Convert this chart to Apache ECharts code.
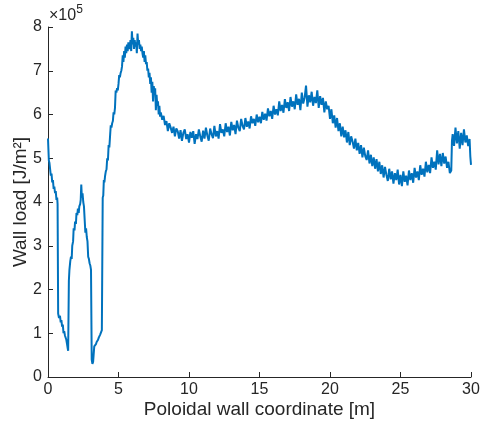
<!DOCTYPE html>
<html>
<head>
<meta charset="utf-8">
<script src="https://cdn.jsdelivr.net/npm/echarts@6/dist/echarts.min.js"></script>
<style>html,body{margin:0;padding:0;background:#fff}#c{width:482px;height:421px}</style>
</head>
<body>
<div id="c"></div>
<script>
// Wall load, in units of 1e5 J/m^2, vs poloidal coordinate [m]
const xTicks = [0, 5, 10, 15, 20, 25, 30];
const yTicks = [0, 1, 2, 3, 4, 5, 6, 7, 8];
const wallLoad = [
[0,5.45],[0.03,5.2],[0.06,4.95],[0.1,4.9],[0.15,4.75],[0.2,4.6],[0.25,4.65],[0.3,4.45],[0.35,4.5],[0.4,4.3],[0.45,4.35],[0.5,4.2],[0.55,4.25],[0.6,4.05],[0.65,4.1],[0.68,3.95],
[0.72,1.45],[0.78,1.35],[0.85,1.4],[0.9,1.25],[0.95,1.3],[1.0,1.15],[1.05,1.2],[1.1,1.0],[1.15,1.05],[1.2,0.95],[1.25,0.98],[1.3,0.85],[1.35,0.75],[1.4,0.65],[1.43,0.6],
[1.48,2.2],[1.52,2.45],[1.58,2.65],[1.63,2.75],[1.68,2.7],[1.72,3.0],[1.78,3.1],[1.82,3.4],[1.88,3.35],[1.92,3.55],[1.98,3.5],[2.02,3.75],[2.08,3.7],[2.12,3.85],[2.18,3.75],[2.22,3.9],[2.28,3.95],[2.32,4.05],[2.36,4.4],[2.4,4.1],[2.45,4.2],[2.5,4.0],[2.55,3.9],[2.6,3.6],[2.65,3.3],[2.7,3.4],[2.75,3.2],[2.8,3.1],[2.85,2.75],[2.9,2.7],[2.95,2.6],[3.0,2.55],[3.05,2.45],
[3.1,0.4],[3.15,0.3],[3.2,0.35],[3.25,0.32],[3.28,0.7],[3.35,0.68],[3.4,0.75],[3.45,0.8],[3.5,0.78],[3.55,0.85],[3.6,0.9],[3.65,0.92],[3.7,0.97],[3.75,1.0],[3.82,1.07],
[3.88,4.1],[3.92,4.15],[3.96,4.5],[4.0,4.45],[4.05,4.6],[4.1,4.7],[4.15,4.75],[4.2,5.0],[4.25,4.95],[4.3,5.3],[4.35,5.25],[4.4,5.5],[4.45,5.75],[4.5,5.7],[4.55,5.8],[4.6,5.85],[4.65,6.05],[4.7,6.0],[4.75,6.15],[4.8,6.55],[4.85,6.5],[4.9,6.6],[4.95,6.55],[5.0,6.7],[5.05,6.9],[5.1,6.85],[5.15,6.95],[5.2,7.0],[5.25,7.1],[5.3,7.35],[5.35,7.2],[5.4,7.45],[5.45,7.3],[5.5,7.55],[5.55,7.4],[5.6,7.6],[5.65,7.45],[5.7,7.65],[5.75,7.5],[5.8,7.55],[5.85,7.7],[5.9,7.45],[5.95,7.9],[6.0,7.6],[6.05,7.75],[6.1,7.5],[6.15,7.7],[6.2,7.55],[6.25,7.65],[6.3,7.4],[6.35,7.85],[6.4,7.6],[6.45,7.7],[6.5,7.5],[6.55,7.6],[6.6,7.45],[6.65,7.55],[6.7,7.4],[6.75,7.3],[6.8,7.45],[6.85,7.2],[6.9,7.35],[6.95,7.15],[7.0,7.2],[7.05,7.0],[7.1,7.05],[7.15,6.85],[7.2,6.95],[7.25,6.7],[7.3,6.85],[7.35,6.5],[7.4,6.75],[7.45,6.3],[7.5,6.65],[7.55,6.5],[7.6,6.6],[7.65,6.1],[7.7,6.45],[7.75,6.2],[7.8,6.3],[7.85,6.0],[7.9,6.2],[7.95,5.95],
[8.0,6.05],[8.1,5.88],[8.2,5.97],[8.3,5.76],[8.4,5.85],[8.5,5.62],[8.6,5.80],[8.7,5.70],[8.8,5.58],[8.9,5.72],[9.0,5.50],[9.1,5.68],[9.2,5.62],[9.3,5.45],[9.4,5.64],[9.5,5.40],[9.6,5.58],[9.7,5.66],[9.8,5.44],[9.9,5.55],
[10.0,5.36],[10.1,5.60],[10.2,5.47],[10.3,5.62],[10.4,5.33],[10.5,5.55],[10.6,5.44],[10.7,5.66],[10.8,5.50],[10.9,5.38],[11.0,5.63],[11.1,5.45],[11.2,5.70],[11.3,5.52],[11.4,5.40],[11.5,5.68],[11.6,5.55],[11.7,5.46],[11.8,5.74],[11.9,5.50],
[12.0,5.62],[12.1,5.45],[12.2,5.78],[12.3,5.58],[12.4,5.66],[12.5,5.50],[12.6,5.80],[12.7,5.60],[12.8,5.72],[12.9,5.52],[13.0,5.83],[13.1,5.64],[13.2,5.76],[13.3,5.55],[13.4,5.86],[13.5,5.70],[13.6,5.62],[13.7,5.90],[13.8,5.74],[13.9,5.66],
[14.0,5.92],[14.1,5.72],[14.2,5.84],[14.3,5.68],[14.4,5.96],[14.5,5.80],[14.6,5.90],[14.7,5.74],[14.8,6.00],[14.9,5.82],
[15.0,5.95],[15.1,5.80],[15.2,6.06],[15.3,5.88],[15.4,6.02],[15.5,5.86],[15.6,6.14],[15.7,5.96],[15.8,6.08],[15.9,5.90],[16.0,6.20],[16.1,6.00],[16.2,6.12],[16.3,5.98],[16.4,6.30],[16.5,6.08],[16.6,6.22],[16.7,6.04],[16.8,6.35],[16.9,6.15],
[17.0,6.28],[17.1,6.08],[17.2,6.40],[17.3,6.18],[17.4,6.30],[17.5,6.12],[17.6,6.46],[17.7,6.22],[17.8,6.36],[17.9,6.10],[18.0,6.50],[18.1,6.25],[18.2,6.38],[18.3,6.66],[18.4,6.18],[18.5,6.44],[18.6,6.28],[18.7,6.52],[18.8,6.20],[18.9,6.40],
[19.0,6.26],[19.1,6.55],[19.2,6.15],[19.3,6.42],[19.4,6.22],[19.5,6.38],[19.6,6.05],[19.7,6.30],[19.8,6.12],[19.9,6.20],[20.0,5.90],[20.1,6.12],[20.2,5.80],[20.3,5.98],[20.4,5.70],[20.5,5.92],[20.6,5.62],[20.7,5.80],[20.8,5.50],[20.9,5.72],
[21.0,5.48],[21.1,5.64],[21.2,5.36],[21.3,5.60],[21.4,5.30],[21.5,5.50],[21.6,5.38],[21.7,5.22],[21.8,5.45],[21.9,5.18],[22.0,5.35],[22.1,5.10],[22.2,5.30],[22.3,5.02],[22.4,5.24],[22.5,5.05],[22.6,4.96],[22.7,5.18],[22.8,4.88],[22.9,5.08],
[23.0,4.82],[23.1,5.02],[23.2,4.76],[23.3,4.98],[23.4,4.70],[23.5,4.92],[23.6,4.64],[23.7,4.84],[23.8,4.56],[23.9,4.80],[24.0,4.62],[24.1,4.48],[24.2,4.76],[24.3,4.52],[24.4,4.70],[24.5,4.42],[24.6,4.66],[24.7,4.50],[24.8,4.74],[24.9,4.40],
[25.0,4.62],[25.1,4.36],[25.2,4.70],[25.3,4.46],[25.4,4.60],[25.5,4.38],[25.6,4.72],[25.7,4.50],[25.8,4.66],[25.9,4.44],[26.0,4.78],[26.1,4.56],[26.2,4.70],[26.3,4.50],[26.4,4.84],[26.5,4.62],[26.6,4.76],[26.7,4.58],[26.8,4.92],[26.9,4.68],
[27.0,4.85],[27.1,4.66],[27.2,5.02],[27.3,4.78],[27.4,4.92],[27.5,4.74],[27.6,5.18],[27.7,4.86],[27.8,5.10],[27.9,4.82],[28.0,5.12],[28.1,4.88],[28.2,5.04],[28.3,4.78],[28.4,4.92],[28.5,4.66],[28.6,4.72],
[28.65,5.40],[28.7,5.55],[28.8,5.28],[28.9,5.70],[29.0,5.34],[29.1,5.62],[29.2,5.22],[29.3,5.58],[29.4,5.30],[29.5,5.66],[29.6,5.36],[29.7,5.52],[29.8,5.28],[29.9,5.44],[29.95,5.05],[30.0,4.85]
];

const chart = echarts.init(document.getElementById('c'), null, {renderer: 'canvas'});
const txt = '#262626';
const font = '"Liberation Sans", Arial, Helvetica, sans-serif';
chart.setOption({
  animation: false,
  backgroundColor: '#fff',
  grid: {left: 48, right: 11, top: 27, bottom: 44, containLabel: false, outerBoundsMode: 'none'},
  xAxis: {
    type: 'value', min: 0, max: 30, interval: 5,
    name: 'Poloidal wall coordinate [m]', nameLocation: 'middle', nameGap: 23, nameMoveOverlap: false,
    nameTextStyle: {color: txt, fontSize: 19, fontFamily: font},
    axisLine: {show: true, onZero: false, lineStyle: {color: txt, width: 1}},
    axisTick: {show: true, inside: true, length: 5, lineStyle: {color: txt}},
    axisLabel: {color: txt, fontSize: 16, fontFamily: font, margin: 5,
      formatter: v => xTicks.includes(v) ? String(v) : ''},
    splitLine: {show: false}
  },
  yAxis: {
    type: 'value', min: 0, max: 8, interval: 1,
    name: 'Wall load [J/m²]', nameLocation: 'middle', nameGap: 18, nameMoveOverlap: false,
    nameTextStyle: {color: txt, fontSize: 19, fontFamily: font},
    axisLine: {show: true, onZero: false, lineStyle: {color: txt, width: 1}},
    axisTick: {show: true, inside: true, length: 5, lineStyle: {color: txt}},
    axisLabel: {color: txt, fontSize: 16, fontFamily: font, margin: 6,
      formatter: v => yTicks.includes(v) ? String(v) : ''},
    splitLine: {show: false}
  },
  graphic: [{
    type: 'text', left: 49, top: 4,
    style: {
      text: '{a|×10}{b|5}',
      rich: {
        a: {fontSize: 16, fontFamily: font, fill: txt, verticalAlign: 'bottom', lineHeight: 20},
        b: {fontSize: 12, fontFamily: font, fill: txt, verticalAlign: 'top', lineHeight: 20, padding: [0,0,8,0]}
      }
    }
  }],
  series: [{
    type: 'line', data: wallLoad, showSymbol: false, symbol: 'none',
    lineStyle: {color: '#0072BD', width: 2}, clip: true
  }]
});
</script>
</body>
</html>
